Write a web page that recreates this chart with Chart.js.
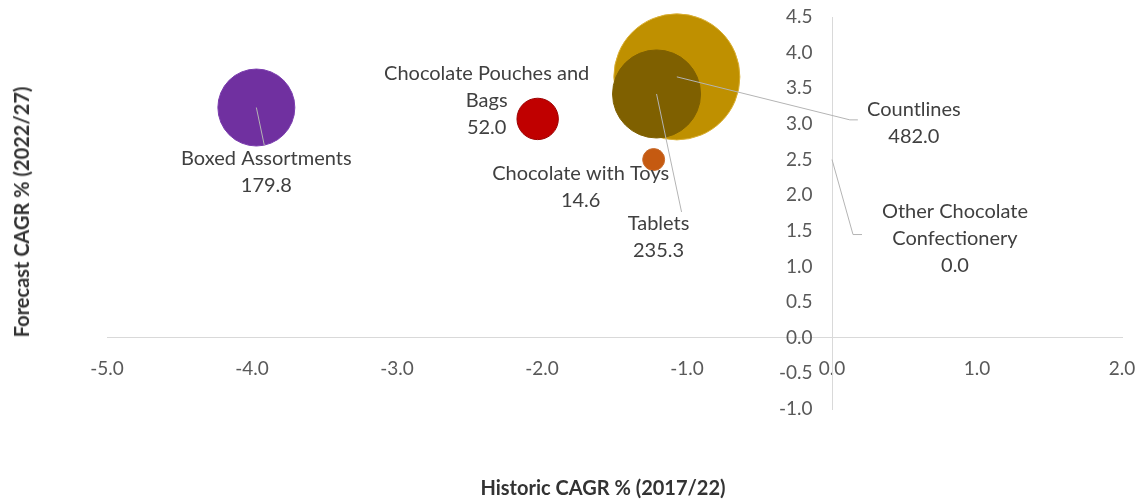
<!DOCTYPE html>
<html>
<head>
    <title>Chocolate confectionery CAGR</title>
    <script src="https://cdn.jsdelivr.net/npm/chart.js"></script>
    <style>
        body { margin: 0; background: #fff; }
        #wrap { position: relative; width: 1141px; height: 500px; }
        .axisTitle { position: absolute; font-family: Lato, sans-serif; font-weight: bold; font-size: 20px; color: #333; white-space: nowrap; }
        #xTitle { left: 603px; top: 487px; transform: translate(-50%, -50%); }
        #yTitle { left: 21px; top: 212px; transform: translate(-50%, -50%) rotate(-90deg); }
    </style>
</head>
<body>
    <div id="wrap">
        <canvas id="myChart" width="1141" height="500"></canvas>
        <div class="axisTitle" id="xTitle">Historic CAGR % (2017/22)</div>
        <div class="axisTitle" id="yTitle">Forecast CAGR % (2022/27)</div>
    </div>

    <script>
        // data (Countlines before Tablets so Tablets sits on top)
        const categories = ['Boxed Assortments', 'Chocolate Pouches and Bags', 'Chocolate with Toys',
                            'Countlines', 'Tablets', 'Other Chocolate Confectionery'];
        const historicCagr = [-3.97, -2.03, -1.23, -1.07, -1.21, 0.0];
        const forecastCagr = [3.23, 3.07, 2.50, 3.66, 3.42, 2.50];
        const marketSize = [179.8, 52.0, 14.6, 482.0, 235.3, 0.0];
        const xTicks = { min: -5, max: 2, step: 1 };
        const yTicks = { min: -1, max: 4.5, step: 0.5 };

        const colors = ['#7030A0', '#C00000', '#C55A11', '#BF9000', '#7F6000', '#A5A5A5'];
        const borders = ['#7a3cae', '#9c0000', '#c86a2a', '#d9ae30', '#7F6000', '#A5A5A5'];

        // label placement, pixel offsets from the bubble centre
        const labelStyle = [
            { dx: 10, dy: 51, wrap: 300, leader: [[8, 38]] },
            { dx: -51, dy: -45, wrap: 230, leader: [] },
            { dx: -73, dy: 14, wrap: 300, leader: [] },
            { dx: 237, dy: 33, wrap: 300, leader: [[173, 43], [181, 43]] },
            { dx: 2, dy: 130, wrap: 300, leader: [[25, 118]] },
            { dx: 123, dy: 52, wrap: 180, leader: [[21, 75], [30, 75]] }
        ];
        const bubbleScale = 2.87;  // px of radius per sqrt(size)

        function wrapText(ctx, text, maxWidth) {
            const words = text.split(' ');
            let lines = [];
            let line = '';
            for (const w of words) {
                const test = line ? line + ' ' + w : w;
                if (ctx.measureText(test).width > maxWidth && line) {
                    lines.push(line);
                    line = w;
                } else {
                    line = test;
                }
            }
            lines.push(line);
            return lines;
        }

        const bubbleLabels = {
            id: 'bubbleLabels',
            afterDatasetsDraw(chart) {
                const ctx = chart.ctx;
                const meta = chart.getDatasetMeta(0);
                ctx.save();
                ctx.font = '20px Lato, sans-serif';
                ctx.textAlign = 'center';
                ctx.textBaseline = 'middle';
                meta.data.forEach((pt, i) => {
                    const st = labelStyle[i];
                    // leader line
                    if (st.leader.length) {
                        ctx.strokeStyle = '#b4b4b4';
                        ctx.lineWidth = 1;
                        ctx.beginPath();
                        ctx.moveTo(pt.x, pt.y);
                        for (const [lx, ly] of st.leader) ctx.lineTo(pt.x + lx, pt.y + ly);
                        ctx.stroke();
                    }
                    const lines = wrapText(ctx, categories[i], st.wrap);
                    lines.push(marketSize[i].toFixed(1));
                    ctx.fillStyle = '#404040';
                    lines.forEach((l, k) => {
                        ctx.fillText(l, pt.x + st.dx, pt.y + st.dy + k * 27);
                    });
                });
                ctx.restore();
            }
        };

        // centred axes: keep them from eating into the plot area
        function noSpace(s) {
            s.width = s.isHorizontal() ? s.width : 0;
            s.height = s.isHorizontal() ? 0 : s.height;
            s.paddingLeft = 0;
            s.paddingRight = 0;
            s.paddingTop = 0;
            s.paddingBottom = 0;
        }

        var ctx = document.getElementById('myChart').getContext('2d');
        var myChart = new Chart(ctx, {
            type: 'bubble',
            data: {
                datasets: [{
                    label: 'Categories',
                    data: categories.map((c, i) => ({
                        x: historicCagr[i],
                        y: forecastCagr[i],
                        r: bubbleScale * Math.sqrt(marketSize[i])
                    })),
                    backgroundColor: colors,
                    borderColor: borders,
                    borderWidth: 1,
                    clip: false
                }]
            },
            options: {
                responsive: false,
                animation: false,
                events: [],
                layout: {
                    autoPadding: false,
                    padding: { left: 107, right: 19, top: 17, bottom: 91 }
                },
                plugins: {
                    legend: { display: false },
                    tooltip: { enabled: false }
                },
                scales: {
                    x: {
                        type: 'linear',
                        position: { y: 0 },
                        min: xTicks.min,
                        max: xTicks.max,
                        afterFit: noSpace,
                        grid: { color: 'transparent', drawTicks: false },
                        border: { display: true, color: '#d9d9d9', width: 1 },
                        ticks: {
                            stepSize: xTicks.step,
                            padding: 20,
                            color: '#595959',
                            font: { family: 'Lato', size: 19 },
                            maxRotation: 0,
                            callback: (v) => Number(v).toFixed(1)
                        }
                    },
                    y: {
                        type: 'linear',
                        position: { x: 0 },
                        min: yTicks.min,
                        max: yTicks.max,
                        afterFit: noSpace,
                        grid: { color: 'transparent', drawTicks: false },
                        border: { display: true, color: '#d9d9d9', width: 1 },
                        ticks: {
                            stepSize: yTicks.step,
                            color: '#595959',
                            font: { family: 'Lato', size: 19 },
                            // labels of an axis placed at a value get no padding, so pad with spaces
                            callback: (v) => Number(v).toFixed(1) + '    '
                        }
                    }
                }
            },
            plugins: [bubbleLabels]
        });
    </script>
</body>
</html>
